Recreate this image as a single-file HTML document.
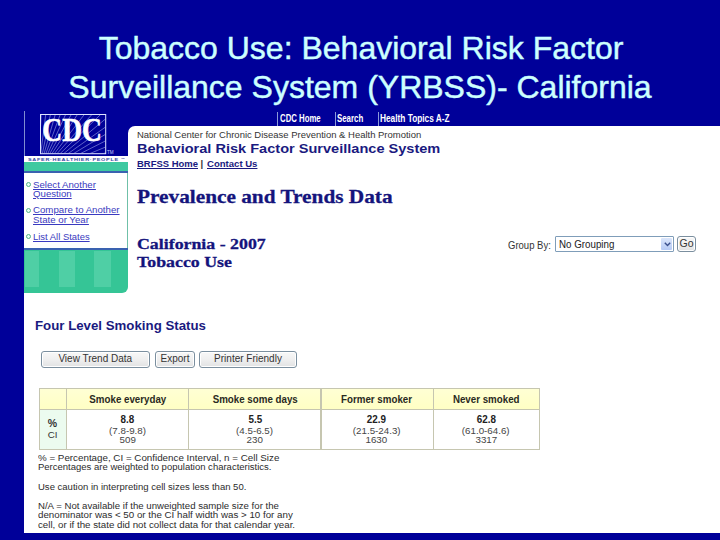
<!DOCTYPE html>
<html>
<head>
<meta charset="utf-8">
<title>Tobacco Use: BRFSS - California</title>
<style>
html,body{margin:0;padding:0;}
body{width:720px;height:540px;overflow:hidden;background:#000099;font-family:"Liberation Sans",sans-serif;position:relative;}
.abs{position:absolute;}
.t{position:absolute;white-space:nowrap;line-height:1;transform-origin:0 0;}
.title{position:absolute;left:0;width:720px;text-align:center;color:#ccffff;font-size:32px;line-height:40px;white-space:nowrap;-webkit-text-stroke:0.45px #ccffff;}
#shot{position:absolute;left:24px;top:111px;width:696px;height:421.5px;background:#fff;overflow:hidden;}
.navy{background:#000099;}
.nav{color:#fff;font-weight:bold;font-size:10.2px;}
.sep{position:absolute;top:1px;width:1px;height:14px;background:#8c9ad8;}
.v{color:#2c2c2c;font-size:9.7px;}
.lnk{color:#3a3ac0;text-decoration:underline;font-size:9.3px;}
.hd{color:#1a1a80;font-weight:bold;}
.ser{font-family:"Liberation Serif",serif;color:#14147c;font-weight:bold;-webkit-text-stroke:0.3px #14147c;}
.bul{position:absolute;width:3px;height:3px;border:1.5px solid #55b08a;border-radius:50%;background:#e8fff4;}
.btn{position:absolute;height:14.2px;border:1px solid #7b8f9f;border-radius:3px;background:linear-gradient(#f8f8f8,#efefef 50%,#e1e2e3);color:#333;font-size:10px;text-align:center;line-height:13.6px;box-shadow:inset 0 0 0 1px #fff;}
.c{position:absolute;white-space:nowrap;line-height:1;text-align:center;color:#222;}
.c span{display:inline-block;transform-origin:50% 0;}
.th{font-size:10.6px;font-weight:bold;color:#2a2a22;}
.th span{transform:scaleX(.92);}
.pv{font-size:10.6px;font-weight:bold;color:#222;}
.pv span{transform:scaleX(.93);}
.ci{font-size:9.3px;color:#444;}
.ci span{transform:scaleX(1.05);}
</style>
</head>
<body>
<div class="title" style="top:28px;left:1px;">Tobacco Use: Behavioral Risk Factor</div>
<div class="title" style="top:67px;">Surveillance System (YRBSS)- California</div>

<div id="shot">
  <!-- top navy area -->
  <div class="abs navy" style="left:0;top:0;width:696px;height:14.5px;"></div>
  <div class="abs navy" style="left:0;top:0;width:104px;height:45px;"></div>
  <div class="abs" style="left:0;top:0;width:1px;height:45px;background:#7f8cd0;"></div>
  <!-- corner fill for rounded white panel -->
  <div class="abs navy" style="left:104px;top:14.5px;width:8px;height:8px;"></div>
  <div class="abs" style="left:104px;top:14.5px;width:16px;height:16px;background:#fff;border-top-left-radius:7px;"></div>

  <!-- nav -->
  <div class="sep" style="left:252.6px;"></div>
  <div class="sep" style="left:310.6px;"></div>
  <div class="sep" style="left:353.6px;"></div>
  <div class="t nav" style="left:256px;top:2.6px;transform:scaleX(.765);">CDC Home</div>
  <div class="t nav" style="left:313.3px;top:2.6px;transform:scaleX(.772);">Search</div>
  <div class="t nav" style="left:355.8px;top:2.6px;transform:scaleX(.815);">Health Topics A-Z</div>

  <!-- CDC logo -->
  <svg class="abs" style="left:16px;top:2.75px;" width="78" height="43" viewBox="0 0 78 43">
    <defs><clipPath id="lc"><rect x="1" y="1" width="64.2" height="38.2"/></clipPath></defs>
    <rect x="0.5" y="0.5" width="65.2" height="39.2" fill="#000099" stroke="#dfe4ff" stroke-width="1"/>
    <g stroke="#b4bcf4" stroke-width="0.7" clip-path="url(#lc)" opacity="0.75">
      <line x1="-2.0" y1="61.0" x2="4.3" y2="-58.8"/>
      <line x1="-2.0" y1="61.0" x2="13.2" y2="-58.0"/>
      <line x1="-2.0" y1="61.0" x2="22.1" y2="-56.5"/>
      <line x1="-2.0" y1="61.0" x2="30.9" y2="-54.4"/>
      <line x1="-2.0" y1="61.0" x2="39.4" y2="-51.6"/>
      <line x1="-2.0" y1="61.0" x2="47.8" y2="-48.2"/>
      <line x1="-2.0" y1="61.0" x2="55.8" y2="-44.2"/>
      <line x1="-2.0" y1="61.0" x2="63.5" y2="-39.5"/>
      <line x1="-2.0" y1="61.0" x2="70.9" y2="-34.3"/>
      <line x1="-2.0" y1="61.0" x2="77.8" y2="-28.6"/>
      <line x1="-2.0" y1="61.0" x2="84.3" y2="-22.4"/>
      <line x1="-2.0" y1="61.0" x2="90.3" y2="-15.7"/>
      <line x1="-2.0" y1="61.0" x2="95.8" y2="-8.5"/>
      <line x1="-2.0" y1="61.0" x2="100.8" y2="-1.0"/>
      <line x1="-2.0" y1="61.0" x2="105.1" y2="6.9"/>
      <line x1="-2.0" y1="61.0" x2="108.9" y2="15.1"/>
      <line x1="-2.0" y1="61.0" x2="112.0" y2="23.5"/>
    </g>
    <text x="2.3" y="26.5" font-family="Liberation Serif" font-weight="bold" font-size="33.5" fill="#fff" stroke="#fff" stroke-width="0.7" textLength="59.5" lengthAdjust="spacingAndGlyphs">CDC</text>
    <text x="67" y="40" font-family="Liberation Sans" font-size="4.6" fill="#c8d0ff">TM</text>
  </svg>

  <!-- tagline -->
  <div class="t" style="left:4px;top:46.5px;font-size:4.3px;font-weight:bold;color:#3a48a4;letter-spacing:.55px;transform:scaleX(1.275);">SAFER·HEALTHIER·PEOPLE <span style="font-size:3px;vertical-align:top;">™</span></div>
  <!-- green band + blue line -->
  <div class="abs" style="left:0;top:51px;width:104px;height:9px;background:#3ec9a0;"></div>
  <div class="abs" style="left:0;top:60px;width:104px;height:2px;background:#3a62b0;"></div>
  <!-- sidebar right border -->
  <div class="abs" style="left:103px;top:62px;width:1px;height:75px;background:#6fc0a8;"></div>

  <!-- sidebar links -->
  <div class="bul" style="left:2px;top:71px;"></div>
  <div class="t lnk" style="left:9px;top:69.5px;transform:scaleX(1.04);">Select Another</div>
  <div class="t lnk" style="left:9px;top:79px;transform:scaleX(1.04);">Question</div>
  <div class="bul" style="left:2px;top:97px;"></div>
  <div class="t lnk" style="left:9px;top:95px;transform:scaleX(1.04);">Compare to Another</div>
  <div class="t lnk" style="left:9px;top:105px;transform:scaleX(1.04);">State or Year</div>
  <div class="bul" style="left:2px;top:123px;"></div>
  <div class="t lnk" style="left:9px;top:121.5px;transform:scaleX(1.015);">List All States</div>

  <!-- sidebar bottom green block -->
  <div class="abs" style="left:0;top:136.5px;width:104px;height:2px;background:#3a62b0;"></div>
  <div class="abs" style="left:0;top:138.5px;width:104px;height:43.5px;background:#35c596;border-bottom-right-radius:6px;overflow:hidden;">
    <div class="abs" style="left:1px;top:1px;width:14px;height:36px;background:#4fcfa5;"></div>
    <div class="abs" style="left:35px;top:1px;width:16px;height:36px;background:#4fcfa5;"></div>
    <div class="abs" style="left:70px;top:1px;width:17px;height:36px;background:#4fcfa5;"></div>
  </div>

  <!-- header text -->
  <div class="t" style="left:113px;top:19px;font-size:9.48px;color:#333;">National Center for Chronic Disease Prevention &amp; Health Promotion</div>
  <div class="t hd" style="left:113px;top:31.5px;font-size:12.2px;transform:scaleX(1.194);">Behavioral Risk Factor Surveillance System</div>
  <div class="t hd" style="left:113px;top:48.5px;font-size:9.2px;text-decoration:underline;transform:scaleX(1.03);">BRFSS Home</div>
  <div class="t" style="left:176.5px;top:48px;font-size:9.5px;font-weight:bold;color:#333;">|</div>
  <div class="t hd" style="left:183px;top:48.5px;font-size:9.2px;text-decoration:underline;transform:scaleX(1.04);">Contact Us</div>

  <div class="t ser" style="left:113px;top:75.5px;font-size:19px;transform:scaleX(1.12);">Prevalence and Trends Data</div>
  <div class="t ser" style="left:113px;top:125px;font-size:15.5px;transform:scaleX(1.15);">California - 2007</div>
  <div class="t ser" style="left:113px;top:142.5px;font-size:15.5px;transform:scaleX(1.15);">Tobacco Use</div>

  <!-- group by -->
  <div class="t" style="left:484.3px;top:129.3px;font-size:10.7px;color:#333;transform:scaleX(.89);">Group By:</div>
  <div class="abs" style="left:531px;top:125px;width:117px;height:14px;border:1px solid #7f9db9;background:#fff;border-radius:1px;"></div>
  <div class="t" style="left:535px;top:128.3px;font-size:10.7px;color:#222;transform:scaleX(.913);">No Grouping</div>
  <div class="abs" style="left:637px;top:127px;width:11px;height:12px;background:linear-gradient(#dbe6fb,#b6caf5);border-radius:1px;"></div>
  <svg class="abs" style="left:639.5px;top:130.5px;" width="7" height="5" viewBox="0 0 7 5"><path d="M0.8 0.8 L3.5 3.6 L6.2 0.8" fill="none" stroke="#3a4f8c" stroke-width="1.4"/></svg>
  <div class="btn" style="left:653px;top:124.5px;width:17px;font-size:10.5px;">Go</div>

  <!-- section heading -->
  <div class="t hd" style="left:11px;top:208.3px;font-size:13px;transform:scaleX(1.02);">Four Level Smoking Status</div>

  <!-- buttons -->
  <div class="btn" style="left:17px;top:240.4px;width:106.5px;">View Trend Data</div>
  <div class="btn" style="left:131px;top:240.4px;width:38px;">Export</div>
  <div class="btn" style="left:175px;top:240.4px;width:96px;">Printer Friendly</div>

  <!-- table -->
  <div class="abs" style="left:14.5px;top:277.2px;width:501.7px;height:61.4px;background:#c6c6b0;"></div>
  <div class="abs" style="left:15.5px;top:278.2px;width:26.5px;height:19.8px;background:linear-gradient(#ffffd4,#ffffc4);"></div>
  <div class="abs" style="left:43px;top:278.2px;width:121.3px;height:19.8px;background:linear-gradient(#ffffd4,#ffffc4);"></div>
  <div class="abs" style="left:165.3px;top:278.2px;width:131.2px;height:19.8px;background:linear-gradient(#ffffd4,#ffffc4);"></div>
  <div class="abs" style="left:297.5px;top:278.2px;width:111.8px;height:19.8px;background:linear-gradient(#ffffd4,#ffffc4);"></div>
  <div class="abs" style="left:410.3px;top:278.2px;width:104.9px;height:19.8px;background:linear-gradient(#ffffd4,#ffffc4);"></div>
  <div class="abs" style="left:15.5px;top:299px;width:26.5px;height:38.6px;background:#ecfbef;"></div>
  <div class="abs" style="left:43px;top:299px;width:121.3px;height:38.6px;background:#fff;"></div>
  <div class="abs" style="left:165.3px;top:299px;width:131.2px;height:38.6px;background:#fff;"></div>
  <div class="abs" style="left:297.5px;top:299px;width:111.8px;height:38.6px;background:#fff;"></div>
  <div class="abs" style="left:410.3px;top:299px;width:104.9px;height:38.6px;background:#fff;"></div>
  <div class="c th" style="left:43px;width:121.3px;top:283.2px;"><span>Smoke everyday</span></div>
  <div class="c pv" style="left:43px;width:121.3px;top:303.2px;"><span>8.8</span></div>
  <div class="c ci" style="left:43px;width:121.3px;top:315.9px;"><span>(7.8-9.8)</span></div>
  <div class="c ci" style="left:43px;width:121.3px;top:325.2px;"><span>509</span></div>
  <div class="c th" style="left:165.3px;width:131.2px;top:283.2px;"><span>Smoke some days</span></div>
  <div class="c pv" style="left:165.3px;width:131.2px;top:303.2px;"><span>5.5</span></div>
  <div class="c ci" style="left:165.3px;width:131.2px;top:315.9px;"><span>(4.5-6.5)</span></div>
  <div class="c ci" style="left:165.3px;width:131.2px;top:325.2px;"><span>230</span></div>
  <div class="c th" style="left:296.8px;width:111.8px;top:283.2px;"><span>Former smoker</span></div>
  <div class="c pv" style="left:296.8px;width:111.8px;top:303.2px;"><span>22.9</span></div>
  <div class="c ci" style="left:296.8px;width:111.8px;top:315.9px;"><span>(21.5-24.3)</span></div>
  <div class="c ci" style="left:296.8px;width:111.8px;top:325.2px;"><span>1630</span></div>
  <div class="c th" style="left:409.6px;width:104.9px;top:283.2px;"><span>Never smoked</span></div>
  <div class="c pv" style="left:409.6px;width:104.9px;top:303.2px;"><span>62.8</span></div>
  <div class="c ci" style="left:409.6px;width:104.9px;top:315.9px;"><span>(61.0-64.6)</span></div>
  <div class="c ci" style="left:409.6px;width:104.9px;top:325.2px;"><span>3317</span></div>
  <div class="c ci" style="left:15.5px;width:26.5px;top:308.4px;font-weight:bold;font-size:10px;color:#333;"><span>%</span></div>
  <div class="c ci" style="left:15.5px;width:26.5px;top:320.2px;color:#333;"><span>CI</span></div>

  <!-- footnotes -->
  <div class="t v" style="left:14.2px;top:341.5px;transform:scaleX(1.0105);">% = Percentage, CI = Confidence Interval, n = Cell Size</div>
  <div class="t v" style="left:14.2px;top:351px;transform:scaleX(0.981);">Percentages are weighted to population characteristics.</div>
  <div class="t v" style="left:14.2px;top:370.5px;transform:scaleX(0.982);">Use caution in interpreting cell sizes less than 50.</div>
  <div class="t v" style="left:14.2px;top:389.5px;transform:scaleX(0.993);">N/A = Not available if the unweighted sample size for the</div>
  <div class="t v" style="left:14.2px;top:399px;transform:scaleX(1.0066);">denominator was &lt; 50 or the CI half width was &gt; 10 for any</div>
  <div class="t v" style="left:14.2px;top:409px;transform:scaleX(1.005);">cell, or if the state did not collect data for that calendar year.</div>
</div>
</body>
</html>
